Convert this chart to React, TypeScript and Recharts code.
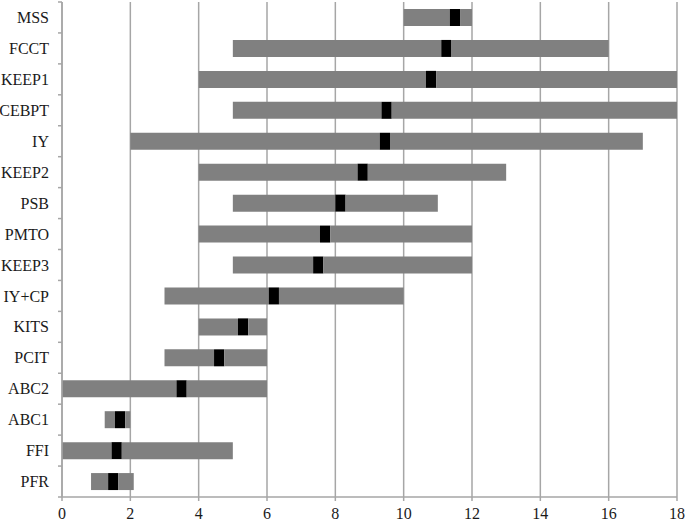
import { BarChart, Bar, XAxis, YAxis, CartesianGrid } from 'recharts'

const programs = ['MSS', 'FCCT', 'KEEP1', 'CEBPT', 'IY', 'KEEP2', 'PSB', 'PMTO', 'KEEP3', 'IY+CP', 'KITS', 'PCIT', 'ABC2', 'ABC1', 'FFI', 'PFR']
const lowest = [10, 5, 4, 5, 2, 4, 5, 4, 5, 3, 4, 3, 0, 1.25, 0, 0.85]
const median = [11.5, 11.25, 10.8, 9.5, 9.45, 8.8, 8.15, 7.7, 7.5, 6.2, 5.3, 4.6, 3.5, 1.7, 1.6, 1.5]
const highest = [12, 16, 18, 18, 17, 13, 11, 12, 12, 10, 6, 6, 6, 2, 5, 2.1]
const xTicks = [0, 2, 4, 6, 8, 10, 12, 14, 16, 18]

const WIDTH = 685
const HEIGHT = 522
const MARGIN = { top: 2, right: 8, bottom: 0, left: 0 }
const Y_AXIS_W = 62
const X_AXIS_H = 25
const BAND = (HEIGHT - MARGIN.top - MARGIN.bottom - X_AXIS_H) / programs.length
const MARK_HALF = 0.15

const GRID = '#a6a6a6'
const FONT = 'Liberation Serif'

// stacked pieces: invisible offset, grey, black median mark, grey
const rows = programs.map((name, i) => ({
  name,
  offset: lowest[i],
  below: median[i] - MARK_HALF - lowest[i],
  mark: MARK_HALF * 2,
  above: highest[i] - median[i] - MARK_HALF,
}))

function ProgramTick(props: any) {
  const { y, payload, index } = props
  const ax = MARGIN.left + Y_AXIS_W
  const half = BAND / 2
  return (
    <g>
      <line x1={ax - 4} x2={ax} y1={y - half} y2={y - half} stroke={GRID} strokeWidth={1.5} />
      {index === programs.length - 1 && (
        <line x1={ax - 4} x2={ax} y1={y + half} y2={y + half} stroke={GRID} strokeWidth={1.5} />
      )}
      <text x={ax - 13} y={y} dy="0.35em" textAnchor="end" style={{ fontFamily: FONT, fontSize: 16 }} fill="#1a1a1a">
        {payload.value}
      </text>
    </g>
  )
}

function ValueTick(props: any) {
  const { x, y, payload } = props
  return (
    <text x={x} y={y} dy="0.71em" textAnchor="middle" style={{ fontFamily: FONT, fontSize: 16 }} fill="#1a1a1a">
      {payload.value}
    </text>
  )
}

export default function App() {
  return (
    <div style={{ position: 'absolute', left: 0, top: 0, fontFamily: FONT }}>
      <BarChart width={WIDTH} height={HEIGHT} data={rows} layout="vertical" margin={MARGIN} barSize={17}>
        <CartesianGrid horizontal={false} stroke={GRID} strokeWidth={1.5} />
        <XAxis
          type="number"
          domain={[0, 18]}
          ticks={xTicks}
          height={X_AXIS_H}
          stroke={GRID}
          strokeWidth={1.5}
          tickSize={4}
          tickMargin={7}
          tick={<ValueTick />}
        />
        <YAxis
          type="category"
          dataKey="name"
          width={Y_AXIS_W}
          stroke={GRID}
          strokeWidth={1.5}
          tickLine={false}
          interval={0}
          tick={<ProgramTick />}
        />
        <Bar dataKey="offset" stackId="r" fill="transparent" isAnimationActive={false} />
        <Bar dataKey="below" stackId="r" fill="#808080" isAnimationActive={false} />
        <Bar dataKey="mark" stackId="r" fill="#000000" isAnimationActive={false} />
        <Bar dataKey="above" stackId="r" fill="#808080" isAnimationActive={false} />
      </BarChart>
    </div>
  )
}
